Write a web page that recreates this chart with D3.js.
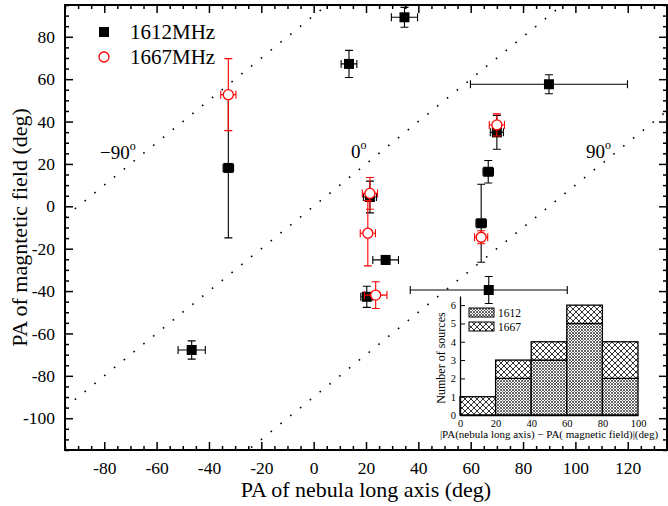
<!DOCTYPE html>
<html>
<head>
<meta charset="utf-8">
<script src="https://cdn.jsdelivr.net/npm/d3@7"></script>
<style>
  body { margin: 0; background: #fff; }
  svg text { font-family: "Liberation Serif", "Times New Roman", serif; }
</style>
</head>
<body>
<div id="chart"></div>
<script>
// 1612 MHz sources (PA of nebula long axis vs PA of magnetic field, deg)
const paAxis1612 = [-46.6, -32.6, 13.5, 34.7, 89.9, 70.0, 66.7, 64.0, 66.9, 27.5, 20.3, 21.5];
const paField1612 = [-67.8, 18.1, 67.2, 89.2, 57.6, 34.9, 16.3, -8.0, -39.5, -25.3, -42.7, 4.4];
const errAxis1612 = [5.2, 2.0, 3.0, 5.0, 30, 2.5, 2.0, 2.0, 30, 4.9, 2.3, 2.5];
const errField1612 = [4.3, 33, 6.4, 4.7, 4.5, 8.0, 5.3, 18.4, 6.4, 2.0, 5.0, 7.5];

// 1667 MHz sources
const paAxis1667 = [-32.6, 21.5, 20.7, 23.7, 64.0, 70.0];
const paField1667 = [52.7, 6.1, -12.7, -41.9, -14.6, 38.4];
const errAxis1667 = [2.9, 2.9, 2.9, 4.3, 2.5, 2.9];
const errField1667 = [17, 7.5, 15.4, 6.3, 3.1, 5.2];

// difference lines y = x - offset
const diffOffsets = [-90, 0, 90];
const diffLabels = ['\u221290', '0', '90'];

// inset histogram |PA(axis) - PA(field)|
const binStarts = [0, 20, 40, 60, 80];
const counts1612 = [0, 2, 3, 5, 2];
const counts1667 = [1, 1, 1, 1, 2];

const W = 668, H = 506;
const L = 65, R = 667, T = 5, B = 450;

const svg = d3.select('#chart').append('svg')
  .attr('width', W).attr('height', H);

const x = d3.scaleLinear().domain([-95, 135]).range([L, R]);
const y = d3.scaleLinear().domain([-115, 95]).range([B, T]);

// patterns for the histogram
const defs = svg.append('defs');
const fine = defs.append('pattern').attr('id', 'p1612')
  .attr('patternUnits', 'userSpaceOnUse').attr('width', 3).attr('height', 3);
fine.append('rect').attr('width', 3).attr('height', 3).attr('fill', '#fff');
fine.append('path').attr('d', 'M0,0L3,3M3,0L0,3').attr('stroke', '#555').attr('stroke-width', 0.9);
const coarse = defs.append('pattern').attr('id', 'p1667')
  .attr('patternUnits', 'userSpaceOnUse').attr('width', 6).attr('height', 6);
coarse.append('rect').attr('width', 6).attr('height', 6).attr('fill', '#fff');
coarse.append('path').attr('d', 'M0,0L6,6M6,0L0,6').attr('stroke', '#333').attr('stroke-width', 1);

defs.append('clipPath').attr('id', 'plotclip')
  .append('rect').attr('x', L).attr('y', T).attr('width', R - L).attr('height', B - T);

// axes
const majorX = d3.range(-80, 121, 20);
const minorX = d3.range(-95, 136, 5).filter(v => v % 20 !== 0);
const majorY = d3.range(-100, 81, 20);
const minorY = d3.range(-115, 96, 5).filter(v => v % 20 !== 0);

function styleAxis(g) {
  g.select('.domain').remove();
  g.selectAll('line').attr('stroke', '#000').attr('stroke-width', 1.5);
  g.selectAll('text').attr('fill', '#000');
  g.attr('font-family', null).attr('font-size', 17.5);
}

svg.append('g').attr('transform', `translate(0,${B})`)
  .call(d3.axisBottom(x).tickValues(majorX).tickSize(-8).tickPadding(12).tickFormat(d => String(d)))
  .call(styleAxis);
svg.append('g').attr('transform', `translate(0,${B})`)
  .call(d3.axisBottom(x).tickValues(minorX).tickSize(-4).tickFormat(''))
  .call(styleAxis);
svg.append('g').attr('transform', `translate(0,${T})`)
  .call(d3.axisTop(x).tickValues(majorX).tickSize(-8).tickFormat(''))
  .call(styleAxis);
svg.append('g').attr('transform', `translate(0,${T})`)
  .call(d3.axisTop(x).tickValues(minorX).tickSize(-4).tickFormat(''))
  .call(styleAxis);

svg.append('g').attr('transform', `translate(${L},0)`)
  .call(d3.axisLeft(y).tickValues(majorY).tickSize(-8).tickPadding(10).tickFormat(d => String(d)))
  .call(styleAxis);
svg.append('g').attr('transform', `translate(${L},0)`)
  .call(d3.axisLeft(y).tickValues(minorY).tickSize(-4).tickFormat(''))
  .call(styleAxis);
svg.append('g').attr('transform', `translate(${R},0)`)
  .call(d3.axisRight(y).tickValues(majorY).tickSize(-8).tickFormat(''))
  .call(styleAxis);
svg.append('g').attr('transform', `translate(${R},0)`)
  .call(d3.axisRight(y).tickValues(minorY).tickSize(-4).tickFormat(''))
  .call(styleAxis);

svg.append('rect').attr('x', L).attr('y', T).attr('width', R - L).attr('height', B - T)
  .attr('fill', 'none').attr('stroke', '#000').attr('stroke-width', 2);

// axis titles
svg.append('text').attr('x', (L + R) / 2).attr('y', 497).attr('text-anchor', 'middle')
  .attr('font-size', 22).text('PA of nebula long axis (deg)');
svg.append('text').attr('transform', `translate(27,${(T + B) / 2}) rotate(-90)`)
  .attr('text-anchor', 'middle').attr('font-size', 22).text('PA of magntetic field (deg)');

// dotted difference lines
const lineGen = d3.line().x(d => x(d[0])).y(d => y(d[1]));
svg.append('g').attr('clip-path', 'url(#plotclip)')
  .selectAll('path').data(diffOffsets).join('path')
  .attr('d', off => lineGen([[-95, -95 - off], [135, 135 - off]]))
  .attr('fill', 'none').attr('stroke', '#000').attr('stroke-width', 1.6)
  .attr('stroke-dasharray', '1.6,11');

const labelPos = [[100, 159], [351, 158], [586, 158]];
diffLabels.forEach((t, i) => {
  const tx = svg.append('text').attr('x', labelPos[i][0]).attr('y', labelPos[i][1])
    .attr('font-size', 19).text(t);
  tx.append('tspan').attr('dy', -9).attr('font-size', 12).text('o');
});

// error bars
function errorBars(xs, ys, ex, ey, color) {
  const g = svg.append('g').attr('stroke', color).attr('stroke-width', 1.1).attr('fill', 'none');
  const cap = 4;
  xs.forEach((xv, i) => {
    const cx = x(xv), cy = y(ys[i]);
    const x0 = x(xv - ex[i]), x1 = x(xv + ex[i]);
    const y0 = y(ys[i] - ey[i]), y1 = y(ys[i] + ey[i]);
    g.append('path').attr('d',
      `M${x0},${cy}H${x1}M${x0},${cy - cap}V${cy + cap}M${x1},${cy - cap}V${cy + cap}` +
      `M${cx},${y0}V${y1}M${cx - cap},${y0}H${cx + cap}M${cx - cap},${y1}H${cx + cap}`);
  });
}

errorBars(paAxis1612, paField1612, errAxis1612, errField1612, '#000');
svg.append('g').selectAll('rect').data(paAxis1612).join('rect')
  .attr('x', (d) => x(d) - 5).attr('y', (d, i) => y(paField1612[i]) - 5)
  .attr('width', 10).attr('height', 10).attr('fill', '#000');

errorBars(paAxis1667, paField1667, errAxis1667, errField1667, '#f00');
svg.append('g').selectAll('circle').data(paAxis1667).join('circle')
  .attr('cx', d => x(d)).attr('cy', (d, i) => y(paField1667[i])).attr('r', 5)
  .attr('fill', '#fff').attr('stroke', '#f00').attr('stroke-width', 1.3);

// legend
svg.append('rect').attr('x', 99).attr('y', 27).attr('width', 10).attr('height', 10).attr('fill', '#000');
svg.append('text').attr('x', 130).attr('y', 38.5).attr('font-size', 21).text('1612MHz');
svg.append('circle').attr('cx', 104).attr('cy', 57).attr('r', 5)
  .attr('fill', '#fff').attr('stroke', '#f00').attr('stroke-width', 1.3);
svg.append('text').attr('x', 130).attr('y', 63.5).attr('font-size', 21).text('1667MHz');

// inset histogram
const ix = d3.scaleLinear().domain([0, 100]).range([460, 638]);
const iy = d3.scaleLinear().domain([0, 6.5]).range([415, 296]);
const inset = svg.append('g');

binStarts.forEach((b, i) => {
  const h1 = counts1612[i], h2 = counts1667[i];
  if (h1 > 0) {
    inset.append('rect').attr('x', ix(b)).attr('y', iy(h1))
      .attr('width', ix(b + 20) - ix(b)).attr('height', iy(0) - iy(h1))
      .attr('fill', 'url(#p1612)').attr('stroke', '#000').attr('stroke-width', 1.3);
  }
  inset.append('rect').attr('x', ix(b)).attr('y', iy(h1 + h2))
    .attr('width', ix(b + 20) - ix(b)).attr('height', iy(h1) - iy(h1 + h2))
    .attr('fill', 'url(#p1667)').attr('stroke', '#000').attr('stroke-width', 1.3);
});

inset.append('g').attr('transform', 'translate(0,415)')
  .call(d3.axisBottom(ix).tickValues(d3.range(0, 101, 20)).tickSize(0).tickPadding(5)
    .tickFormat(d => String(d)))
  .call(g => {
    g.select('.domain').attr('stroke', '#000').attr('stroke-width', 1.3);
    g.attr('font-family', null).attr('font-size', 10.5);
  });
inset.append('g').attr('transform', 'translate(460,0)')
  .call(d3.axisLeft(iy).tickValues(d3.range(0, 7)).tickSize(-5).tickPadding(4).tickSizeOuter(0)
    .tickFormat(d => String(d)))
  .call(g => {
    g.select('.domain').attr('stroke', '#000').attr('stroke-width', 1.3);
    g.selectAll('line').attr('stroke', '#000');
    g.attr('font-family', null).attr('font-size', 10.5);
  });

inset.append('text').attr('x', 549).attr('y', 438).attr('text-anchor', 'middle')
  .attr('font-size', 11).text('|PA(nebula long axis) \u2212 PA( magnetic field)|(deg)');
inset.append('text').attr('transform', 'translate(445,358) rotate(-90)')
  .attr('text-anchor', 'middle').attr('font-size', 12).text('Number of sources');

const legendItems = [['1612', 'url(#p1612)', 308], ['1667', 'url(#p1667)', 322]];
legendItems.forEach(([t, f, yy]) => {
  inset.append('rect').attr('x', 469).attr('y', yy).attr('width', 25).attr('height', 9)
    .attr('fill', f).attr('stroke', '#000').attr('stroke-width', 1);
  inset.append('text').attr('x', 498).attr('y', yy + 8.5).attr('font-size', 11.5).text(t);
});
</script>
</body>
</html>
